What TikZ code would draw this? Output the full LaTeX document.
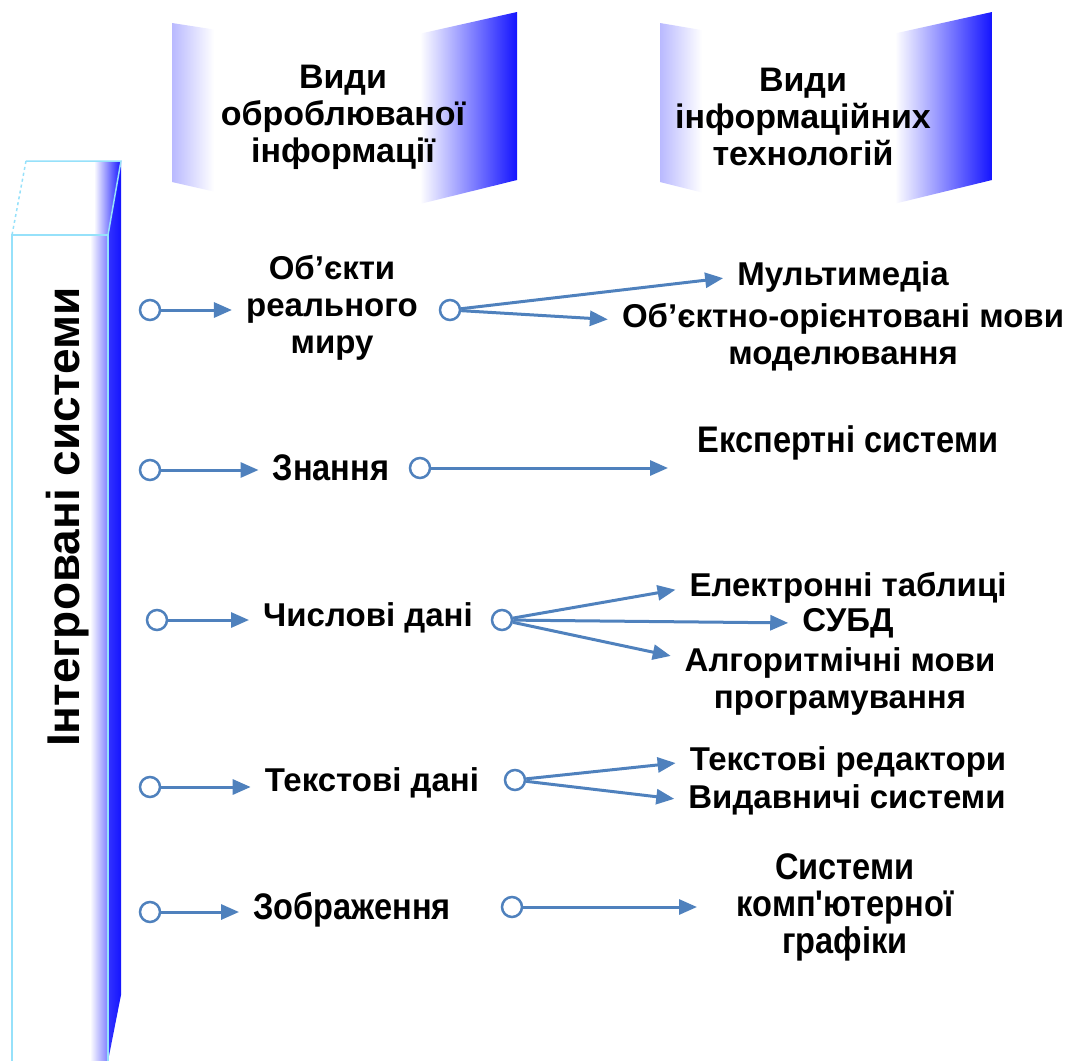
\documentclass[tikz,border=0pt]{standalone}
\usepackage{fontspec}
\setmainfont{Liberation Sans}
\newfontfamily\narrowfont{Liberation Sans}[FakeStretch=0.88]
\usetikzlibrary{arrows.meta,positioning,calc}

\definecolor{linkblue}{RGB}{79,129,189}
\definecolor{edgecyan}{RGB}{150,225,250}
\definecolor{deepblue}{RGB}{20,20,255}
\definecolor{paleblue}{RGB}{185,185,255}

\tikzset{
  kind text/.style={font=\bfseries\fontsize{33}{37}\selectfont, align=center, inner sep=4pt},
  head text/.style={font=\bfseries\fontsize{34}{37}\selectfont, align=center, inner sep=4pt},
  narrow text/.style={font=\narrowfont\bfseries\fontsize{37}{37}\selectfont, align=center, inner sep=4pt},
  port/.style={circle, draw=linkblue, fill=white, line width=2.5pt, minimum size=20pt, inner sep=0pt},
  link/.style={->, draw=linkblue, line width=3pt, shorten >=10pt},
}

\begin{document}
\begin{tikzpicture}[x=1pt, y=-1pt, >={Triangle[length=18pt,width=15pt]}]
\useasboundingbox (0,0) rectangle (1072,1061);

% left bar
\fill[white] (12,235) rectangle (108,1061);
\shade[left color=white, right color=blue!50] (90,235) rectangle (108,1061);
\shade[left color=blue!80, right color=deepblue] (108,235) -- (121,161) -- (121,995) -- (108,1061) -- cycle;
\begin{scope}
  \clip (12,235) -- (108,235) -- (121,161) -- (26,161) -- cycle;
  \shade[left color=white, right color=deepblue] (94,161) rectangle (121,235);
\end{scope}
\draw[edgecyan, line width=1.5pt] (12,1061) -- (12,235) -- (108,235) -- (108,1061);
\draw[edgecyan, line width=1.5pt] (108,235) -- (121,161) -- (26,161);
\draw[edgecyan, line width=1.5pt, dashed] (26,161) -- (12,235);
\node[rotate=90, font=\bfseries\fontsize{46}{46}\selectfont] (bar-title) at (68,517) {Інтегровані системи};

% banners
\foreach \xl/\xm/\xr in {172/347/517, 660/820/992} {
  \begin{scope}
    \clip (\xl,23) -- (\xm,50) -- (\xr,12) -- (\xr,180) -- (\xm,222) -- (\xl,182) -- cycle;
    \shade[left color=paleblue, right color=white] (\xl,0) rectangle (\xl+42,230);
    \shade[left color=white, right color=deepblue] (\xr-97,0) rectangle (\xr,230);
  \end{scope}
}
\node[head text] (head-1) at (343,117) {Види\\оброблюваної\\інформації};
\node[head text] (head-2) at (803,117) {Види\\інформаційних\\технологій};

% kinds of information
\node[kind text] (kind-1) at (332,308) {Об'єкти\\реального\\миру};
\node[narrow text] (kind-2) at (331,468) {Знання};
\node[kind text] (kind-3) at (368,618) {Числові дані};
\node[kind text] (kind-4) at (372,783) {Текстові дані};
\node[narrow text] (kind-5) at (352,910) {Зображення};

\foreach \x/\y [count=\i] in {150/310, 150/470, 157/620, 150/787, 150/912}
  \node[port] (in-\i) at (\x,\y) {};

\foreach \x/\y [count=\i] in {450/310, 420/468, 502/620, 515/780, 512/907}
  \node[port] (out-\i) at (\x,\y) {};

% kinds of technologies
\node[kind text] (tech-1a) at (843,277) {Мультимедіа};
\node[kind text] (tech-1b) at (843,337) {Об'єктно-орієнтовані мови\\моделювання};
\node[narrow text] (tech-2) at (848,443) {Експертні системи};
\node[kind text] (tech-3a) at (848,588) {Електронні таблиці};
\node[kind text] (tech-3b) at (848,623) {СУБД};
\node[kind text] (tech-3c) at (840,681) {Алгоритмічні мови\\програмування};
\node[kind text] (tech-4a) at (848,762) {Текстові редактори};
\node[kind text] (tech-4b) at (847,800) {Видавничі системи};
\node[narrow text] (tech-5) at (845,907) {Системи\\комп'ютерної\\графіки};

\coordinate (tip-2) at (668,468);
\coordinate (tip-5) at (697,907);

\foreach \i in {1,...,5}
  \draw[link] (in-\i) -- (in-\i -| kind-\i.west);

\foreach \s/\t in {1/1a, 3/3a, 3/3b, 4/4a, 4/4b}
  \draw[link] (out-\s) -- (tech-\t.west);

\draw[link] (out-1) -- ([yshift=17pt]tech-1b.west);
\draw[link] (out-3) -- ([yshift=23pt]tech-3c.west);
\draw[link, shorten >=0pt] (out-2) -- (tip-2);
\draw[link, shorten >=0pt] (out-5) -- (tip-5);

\end{tikzpicture}
\end{document}
